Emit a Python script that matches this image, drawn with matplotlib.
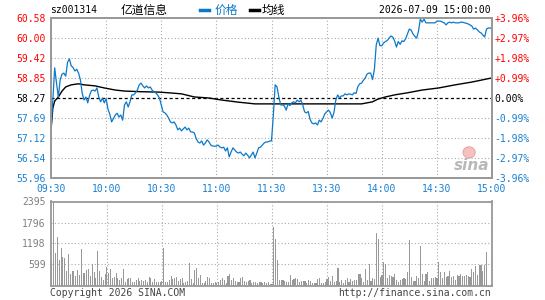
import numpy as np
import matplotlib
matplotlib.use('Agg')
import matplotlib.pyplot as plt
from matplotlib.lines import Line2D
from matplotlib.patches import Ellipse

# ---- data (one value per trading minute, 0 = 09:30, 240 = 15:00)
price = [
    57.35, 58.20, 59.14, 58.70, 58.30, 58.80, 58.96, 58.99, 58.90, 59.30,
    59.40, 59.20, 59.15, 59.05, 59.10, 58.99, 58.79, 58.40, 58.21, 58.30,
    58.13, 58.35, 58.48, 58.50, 58.47, 58.56, 58.30, 58.16, 58.27, 58.13,
    58.25, 57.95, 57.80, 57.58, 57.68, 57.78, 57.83, 57.72, 57.78, 57.63,
    58.07, 58.16, 58.01, 58.16, 58.36, 58.36, 58.42, 58.50, 58.65, 58.70,
    58.62, 58.56, 58.62, 58.56, 58.59, 58.50, 58.44, 58.42, 58.36, 58.27,
    58.07, 57.87, 57.84, 57.78, 57.69, 57.58, 57.55, 57.58, 57.49, 57.35,
    57.40, 57.32, 57.38, 57.43, 57.35, 57.40, 57.29, 57.29, 57.26, 57.10,
    57.00, 56.97, 57.03, 56.91, 56.97, 57.06, 57.00, 56.91, 56.88, 56.88,
    56.88, 56.91, 56.85, 56.83, 56.85, 56.74, 56.83, 56.57, 56.71, 56.83,
    56.77, 56.71, 56.68, 56.71, 56.65, 56.60, 56.68, 56.62, 56.54, 56.62,
    56.71, 56.54, 56.68, 56.83, 56.85, 56.91, 56.97, 57.00, 57.00, 57.03,
    57.03,
    57.78, 58.65, 58.59, 58.30, 58.07, 58.07, 58.04, 57.92, 58.10, 58.05,
    58.13, 58.16, 58.13, 58.21, 58.16, 58.21, 58.07, 57.87, 57.84, 57.88,
    57.65, 57.55, 57.52, 57.55, 57.49, 57.63, 57.58, 57.68, 57.81, 57.87,
    57.92, 57.85, 57.69, 57.85, 58.21, 58.36, 58.27, 58.33, 58.33, 58.39,
    58.36, 58.39, 58.38, 58.36, 58.42, 58.40, 58.60, 58.68, 58.70, 58.78,
    58.85, 58.96, 58.99, 58.99, 58.80, 59.10, 59.80, 60.00, 59.78, 59.78,
    59.86, 59.90, 59.93, 60.00, 60.06, 60.03, 59.92, 59.74, 59.90, 59.82,
    59.92, 59.90, 59.98, 60.12, 60.26, 60.23, 60.12, 60.05, 60.00, 60.20,
    60.55, 60.46, 60.55, 60.44, 60.44, 60.44, 60.44, 60.44, 60.44, 60.49,
    60.49, 60.49, 60.46, 60.44, 60.38, 60.44, 60.46, 60.44, 60.46, 60.44,
    60.44, 60.44, 60.46, 60.46, 60.44, 60.43, 60.41, 60.38, 60.35, 60.26,
    60.29, 60.24, 60.18, 60.15, 60.09, 60.03, 60.26, 60.29, 60.29, 60.29,
]

avg_t = [0, 1, 2, 4, 6, 8, 11, 15, 18, 24, 29, 35, 40, 50, 59, 64, 71, 78,
         86, 93, 102, 111, 120, 169, 172, 175, 178, 180, 182, 187, 194, 202,
         211, 220, 229, 240]
avg_v = [57.35, 57.98, 58.18, 58.30, 58.47, 58.59, 58.65, 58.68, 58.65, 58.62,
         58.56, 58.50, 58.47, 58.45, 58.44, 58.42, 58.39, 58.30, 58.27, 58.21,
         58.15, 58.10, 58.10, 58.10, 58.13, 58.16, 58.24, 58.27, 58.30, 58.36,
         58.42, 58.50, 58.56, 58.65, 58.73, 58.85]

volume = [
    680, 2395, 920, 1378, 730, 1064, 808, 780, 418, 893,
    323, 418, 418, 275, 446, 304, 1035, 351, 351, 446,
    465, 275, 608, 399, 228, 988, 418, 237, 161, 323,
    522, 351, 465, 209, 256, 351, 209, 161, 228, 465,
    114, 180, 209, 209, 95, 114, 161, 209, 133, 161,
    133, 161, 114, 237, 209, 114, 180, 86, 114, 95,
    133, 1083, 114, 114, 161, 285, 180, 209, 256, 133,
    190, 209, 67, 114, 133, 636, 180, 67, 446, 494,
    228, 304, 67, 67, 133, 256, 209, 67, 67, 114,
    67, 114, 161, 209, 161, 67, 285, 323, 161, 209,
    133, 114, 114, 209, 237, 133, 114, 133, 161, 67,
    114, 114, 67, 114, 95, 67, 114, 67, 114, 38,
    38,
    1663, 1320, 722, 152, 152, 152, 133, 86, 114, 295,
    161, 180, 228, 180, 95, 133, 133, 133, 67, 143,
    133, 67, 67, 67, 180, 209, 67, 67, 114, 180,
    247, 133, 266, 114, 133, 494, 114, 161, 67, 161,
    209, 114, 190, 133, 161, 161, 323, 323, 228, 114,
    465, 161, 627, 133, 209, 180, 1491, 1320, 247, 304,
    665, 627, 228, 304, 275, 256, 323, 161, 114, 143,
    180, 209, 190, 371, 1292, 256, 133, 133, 285, 228,
    1121, 342, 133, 323, 380, 133, 209, 228, 237, 209,
    665, 399, 228, 380, 237, 285, 408, 247, 285, 161,
    304, 275, 323, 266, 275, 294, 275, 247, 465, 380,
    570, 304, 598, 598, 427, 598, 969, 0, 0, 0,
]

prev_close = 58.27
price_ticks = [60.58, 60.00, 59.42, 58.85, 58.27, 57.69, 57.12, 56.54, 55.96]
pct_labels = ['+3.96%', '+2.97%', '+1.98%', '+0.99%', '0.00%',
              '-0.99%', '-1.98%', '-2.97%', '-3.96%']
time_labels = ['09:30', '10:00', '10:30', '11:00', '11:30',
               '13:30', '14:00', '14:30', '15:00']
vol_ticks = [599, 1198, 1796, 2395]

RED = '#ff0000'
BLUE = '#1a80d0'
LINE_BLUE = '#0c78c8'
GRID = '#aaaaaa'
FRAME = '#999999'
MONO = 'DejaVu Sans Mono'
CJK = ['Noto Sans CJK SC', 'DejaVu Sans']

W, H = 545, 300
fig = plt.figure(figsize=(W / 100, H / 100), dpi=100)
fig.patch.set_facecolor('white')

ax = fig.add_axes([51 / W, 1 - 178 / H, 441 / W, 160 / H])
axv = fig.add_axes([51 / W, 1 - 285.5 / H, 441 / W, 84 / H])

minutes = np.arange(len(price))
x_ticks = np.arange(0, 241, 30)


def level_color(v):
    if v > prev_close:
        return RED
    return 'black' if v == prev_close else BLUE


# ---- price panel
for lvl in price_ticks[1:-1]:
    if lvl == prev_close:
        ax.axhline(lvl, color='black', lw=0.9, ls=(0, (2.5, 2)), zorder=1)
    else:
        ax.axhline(lvl, color=GRID, lw=0.8, ls=(0, (1, 2)), zorder=1)
for xt in x_ticks[1:-1]:
    ax.axvline(xt, color=GRID, lw=0.8, ls=(0, (1, 2)), zorder=1)

ax.plot(minutes, price, color=LINE_BLUE, lw=0.9, zorder=3)
ax.plot(avg_t, avg_v, color='black', lw=1.0, zorder=2)

ax.set_xlim(0, 240)
ax.set_ylim(price_ticks[-1], price_ticks[0])
ax.set_yticks(price_ticks)
ax.set_yticklabels([f'{v:.2f}' for v in price_ticks], fontfamily=MONO, fontsize=7)
for lab, v in zip(ax.get_yticklabels(), price_ticks):
    lab.set_color(level_color(v))
ax.set_xticks(x_ticks)
ax.set_xticklabels(time_labels, fontfamily=MONO, fontsize=7, color=BLUE)
ax.tick_params(length=0, pad=4)

axr = ax.twinx()
axr.set_ylim(ax.get_ylim())
axr.set_yticks(price_ticks)
axr.set_yticklabels(pct_labels, fontfamily=MONO, fontsize=7)
for lab, v in zip(axr.get_yticklabels(), price_ticks):
    lab.set_color(level_color(v))
axr.tick_params(length=0, pad=2)

for a in (ax, axr, axv):
    for sp in a.spines.values():
        sp.set_color(FRAME)
        sp.set_linewidth(1.3)

# sina watermark
ax.text(0.995, 0.03, 'sina', transform=ax.transAxes, ha='right', va='bottom',
        fontsize=11, fontweight='bold', fontstyle='italic', color='#b8b8b8',
        family='DejaVu Sans', zorder=2)
ax.add_patch(Ellipse((0.948, 0.16), 0.028, 0.07, transform=ax.transAxes,
                     facecolor='#f6c0c0', edgecolor='#e89a9a', lw=0.6, zorder=2))

# ---- volume panel
for lvl in vol_ticks[:-1]:
    axv.axhline(lvl, color=GRID, lw=0.8, ls=(0, (1, 2)), zorder=1)
for xt in x_ticks[1:-1]:
    axv.axvline(xt, color=GRID, lw=0.8, ls=(0, (1, 2)), zorder=1)
axv.bar(np.arange(len(volume)), volume, width=0.6, color='#999999',
        linewidth=0, antialiased=False, zorder=2)
axv.set_xlim(-0.5, 240)
axv.set_ylim(0, vol_ticks[-1])
axv.set_xticks([])
axv.set_yticks(vol_ticks)
axv.set_yticklabels([str(v) for v in vol_ticks], fontfamily=MONO, fontsize=7, color='#808080')
axv.tick_params(length=0, pad=4)

# ---- header and footer
ty = 1 - 10 / H
fig.text(50 / W, ty, 'sz001314', fontfamily=MONO, fontsize=7, va='center', ha='left')
fig.text(121 / W, ty, '亿道信息', family=CJK, fontsize=8.5, va='center', ha='left')
fig.add_artist(Line2D([200 / W, 209 / W], [ty, ty], color=LINE_BLUE, lw=2.5))
fig.text(215 / W, ty, '价格', family=CJK, fontsize=8.5, va='center', ha='left', color=LINE_BLUE)
fig.add_artist(Line2D([250 / W, 259 / W], [ty, ty], color='black', lw=2.5))
fig.text(262 / W, ty, '均线', family=CJK, fontsize=8.5, va='center', ha='left')
fig.text(491 / W, ty, '2026-07-09 15:00:00', fontfamily=MONO, fontsize=7, va='center', ha='right')

fy = 1 - 293 / H
fig.text(50 / W, fy, 'Copyright 2026 SINA.COM', fontfamily=MONO, fontsize=7,
         va='center', ha='left', color='#444444')
fig.text(491 / W, fy, 'http://finance.sina.com.cn', fontfamily=MONO, fontsize=7,
         va='center', ha='right', color='#444444')

fig.savefig('out.png', dpi=100, facecolor='white')
